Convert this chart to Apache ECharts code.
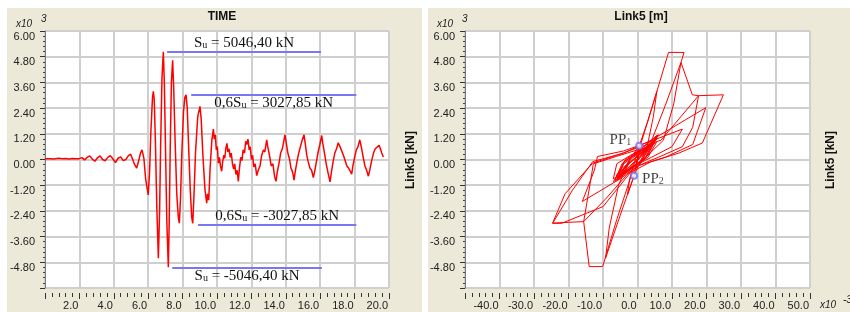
<!DOCTYPE html>
<html>
<head>
<meta charset="utf-8">
<script src="https://cdn.jsdelivr.net/npm/echarts@6/dist/echarts.min.js"></script>
<style>
html,body{margin:0;padding:0;background:#fff;}
#main{width:850px;height:312px;}
</style>
</head>
<body>
<div id="main"></div>
<script>
// Link5 force (x10^3 kN) against time (s)
var timeT = [0.0,0.3,0.5,0.8,1.0,1.2,1.4,1.6,1.8,2.0,2.15,2.3,2.45,2.6,2.75,2.9,3.05,3.2,3.35,3.5,3.65,3.8,3.95,4.1,4.25,4.4,4.55,4.7,4.85,4.98,
  5.1,5.2,5.33,5.45,5.55,5.64,5.75,5.85,6.0,6.08,6.15,6.25,6.3,6.35,6.42,6.5,6.59,6.66,6.72,6.8,6.88,6.94,7.0,7.08,7.17,7.22,7.28,7.35,7.42,7.48,
  7.56,7.66,7.75,7.81,7.88,7.95,8.05,8.13,8.2,8.27,8.35,8.45,8.53,8.59,8.66,8.75,8.88,9.01,9.08,9.18,9.3,9.4,9.45,9.52,9.6,9.7,9.79,9.84,9.9,9.96,
  10.02,10.08,10.14,10.2,10.27,10.33,10.4,10.45,10.52,10.58,10.63,10.7,10.77,10.83,10.9,10.97,11.03,11.1,11.17,11.24,11.3,11.38,11.45,11.52,11.6,11.67,11.73,11.8,11.87,11.93,
  12.0,12.07,12.14,12.22,12.31,12.4,12.5,12.6,12.7,12.78,12.89,12.95,13.05,13.15,13.25,13.35,13.43,13.5,13.6,13.7,13.8,13.88,13.95,14.02,14.12,14.22,14.3,14.4,14.48,14.55,
  14.65,14.75,14.85,14.95,15.06,15.12,15.22,15.3,15.4,15.5,15.6,15.68,15.78,15.88,15.98,16.09,16.15,16.25,16.35,16.45,16.57,16.65,16.75,16.85,16.95,17.05,17.15,17.25,17.35,17.45,
  17.55,17.65,17.75,17.83,17.9,18.0,18.1,18.2,18.3,18.4,18.5,18.6,18.7,18.8,18.88,18.98,19.1,19.2,19.3,19.42,19.5,19.58,19.67];
var timeV = [0.03,0.04,0.02,0.06,0.03,0.05,0.02,0.05,0.03,0.04,0.09,-0.02,0.1,0.17,0.02,-0.08,0.08,0.17,0.0,-0.06,0.1,0.18,0.02,-0.14,0.06,0.12,-0.05,0.0,0.18,0.25,
  0.0,-0.22,-0.4,-0.05,0.3,0.45,0.05,-0.9,-1.65,-0.6,1.2,2.9,3.18,2.8,0.8,-2.2,-4.61,-2.5,0.5,3.8,5.03,3.5,0.8,-2.8,-5.03,-3.0,0.5,3.6,4.63,3.4,
  1.0,-1.6,-2.7,-2.97,-1.8,0.2,2.2,2.9,3.02,2.4,0.6,-1.5,-2.7,-2.98,-1.7,0.3,2.0,2.48,1.9,0.2,-1.4,-2.04,-1.6,-1.9,-0.4,0.9,1.42,0.95,1.15,0.45,
  0.6,-0.17,0.1,-0.3,-0.55,-0.1,0.2,0.05,0.55,0.75,0.35,0.5,0.1,0.3,-0.2,-0.45,-0.2,-0.7,-0.5,-1.02,-0.45,0.1,-0.05,0.45,0.3,0.85,0.7,0.95,0.45,0.6,
  0.0,0.2,-0.35,-0.2,-0.75,-0.5,-0.3,0.2,0.45,0.35,0.92,0.6,0.2,-0.3,-0.2,-0.8,-1.02,-0.6,-0.2,0.3,0.5,0.85,1.15,0.8,0.3,0.0,-0.4,-0.6,-0.96,-0.55,
  -0.1,0.3,0.6,0.9,1.15,0.8,0.2,-0.1,-0.4,-0.5,-0.84,-0.55,-0.1,0.35,0.7,1.12,0.75,0.3,-0.2,-0.6,-1.04,-0.6,-0.1,0.3,0.5,0.78,0.6,0.55,0.2,-0.05,
  -0.3,-0.4,-0.55,-0.68,-0.3,0.1,0.45,0.6,0.92,0.55,0.1,-0.3,-0.5,-0.78,-0.5,-0.1,0.3,0.5,0.55,0.66,0.5,0.3,0.12];

// Link5 force (x10^3 kN) against Link5 displacement (x10^-3 m)
var loopD = [0,0.1,-0.05,0.2,-0.1,0.25,-0.2,0.3,-0.45,0.45,
  -1.0,-2.9,-2.3,-1.2,0.5,3.0,5.6,
  4.6,2.8,0.5,-1.0,-5,-9.26,
  -8.2,-5.5,-2,0.9,5,9.0,13.5,
  12.6,10.5,7.5,3,-1.5,-6,-10.1,-14.0,-15.6,
  -13.5,-12.8,-6,0,3.4,8,12.6,15.9,17.7,
  16,13,6,0,-3,-9,-15.6,-24.6,
  -21,-13,-6,1,6.8,17.7,24.9,
  18.8,12,4,-2,-10,-22,-24.6,
  -18.8,-13,-4,4,19.8,
  16,8,0,-5,-16,
  -12.5,-11.6,-4,3,13,
  10,4,-1,-7,-6,-2,3,5.5,3,-2,-6,-4,0,4,6,3,-1,-6.5,-4.5,0,6,2.5,-2,-5.8,-3.5,1,5.6,2,-3,-7,-4,0,4,1,-4,-2,2,5,1,-5,-2,3.5,
  1.2,-1.5,-4.8,-6.2,-3,-0.5,2.5,4.6,5.2,2.2,-0.8,-3.6,-5.5,-4.2,-1.2,1.8,4.2,3.5,0.6,-2.6,-6.0,-4.8,-2,0.6,3.2,5.8,2.8,-0.2,-3.2,-5.2,-3.6,-0.6,2.4,4.8,1.5];
var loopV = [0,0.05,0,0.15,-0.08,0.18,-0.15,0.25,-0.4,0.45,
  -0.76,-1.65,-0.9,-0.3,0.64,1.8,3.18,
  2.0,0.6,-0.2,-0.76,-2.6,-4.61,
  -3.2,-1.2,0.1,0.69,2.85,5.0,5.0,
  4.53,2.6,0.9,0.2,-0.6,-2.8,-5.0,-5.0,-2.9,
  -0.9,-0.2,0.15,0.45,0.6,2.5,4.53,3.02,2.98,
  1.5,0.6,0.1,-0.3,-0.7,-1.8,-2.9,-2.97,
  -1.6,-0.17,0.2,0.6,0.9,2.98,3.02,
  0.77,0.3,-0.1,-0.6,-2.2,-2.98,-2.98,
  -1.42,-0.1,0.3,0.9,2.42,
  0.7,0.1,-0.3,-0.9,-1.96,
  -0.5,0.14,0.4,0.8,1.42,
  0.6,0.1,-0.3,-0.9,-0.2,0.2,0.6,0.8,0.1,-0.4,-1.0,-0.1,0.3,0.7,1.15,0.2,-0.3,-0.96,-0.2,0.35,1.15,0.1,-0.4,-0.84,0,0.5,1.12,0,-0.6,-1.04,-0.2,0.3,0.78,-0.1,-0.68,0,0.5,0.92,-0.1,-0.78,0.1,0.66,
  0.35,-0.05,-0.55,-0.75,-0.3,0.1,0.55,0.85,0.95,0.35,-0.2,-0.6,-0.9,-0.5,0.0,0.4,0.75,0.6,0.1,-0.4,-0.85,-0.45,-0.1,0.25,0.55,1.0,0.5,0.0,-0.45,-0.7,-0.35,0.05,0.45,0.8,0.15];

// performance points
var ppNames = ['1', '2'];
var ppD = [0.5, -1.0];
var ppV = [0.64, -0.76];

// reference levels on the time history
var refPrefix = ['S', '0,6S', '0,6S', 'S'];
var refText = [' = 5046,40 kN', ' = 3027,85 kN', ' = -3027,85 kN', ' = -5046,40 kN'];
var refV = [5.0464, 3.02785, -3.02785, -5.0464];
var refFrom = [7.1, 8.5, 8.9, 7.4];
var refTo = [16.05, 18.1, 18.1, 16.1];
var refAbove = [true, false, true, false];

var myChart = echarts.init(document.getElementById('main'));

var sans = 'Liberation Sans';
var serif = 'Liberation Serif';
var gridLine = {show: true, lineStyle: {color: '#cfcfcf', width: 2}};
var richSub = {
    m: {fontFamily: serif, fontSize: 15, color: '#111'},
    s: {fontFamily: serif, fontSize: 10, color: '#111', verticalAlign: 'bottom'}
};

function yAxis(idx) {
    return {
        gridIndex: idx, type: 'value', min: -6, max: 6, interval: 1.2,
        axisLine: {show: true, onZero: false, lineStyle: {color: '#7a7a7a'}},
        axisTick: {show: true, length: 5, lineStyle: {color: '#333'}},
        minorTick: {show: true, splitNumber: 5, length: 2, lineStyle: {color: '#444'}},
        splitLine: gridLine,
        axisLabel: {
            margin: 10, verticalAlign: 'top', color: '#222', fontFamily: sans, fontSize: 11,
            formatter: function (v) { return v < -5.9 ? '' : v.toFixed(2); }
        }
    };
}
function xAxis(idx, min, max, step) {
    return {
        gridIndex: idx, type: 'value', min: min, max: max, interval: step, offset: 5,
        axisLine: {show: false, onZero: false},
        axisTick: {show: true, length: 6, lineStyle: {color: '#333'}},
        minorTick: {show: true, splitNumber: 5, length: 4, lineStyle: {color: '#333'}},
        splitLine: gridLine,
        axisLabel: {
            showMinLabel: false, align: 'right', padding: [0, 1, 0, 0], margin: 7,
            color: '#222', fontFamily: sans, fontSize: 11,
            formatter: function (v) { return v.toFixed(1); }
        }
    };
}

var option = {
    backgroundColor: '#ECE9D8',
    animation: false,
    grid: [
        {left: 45, top: 31, width: 344, height: 257, show: true, backgroundColor: '#fff', borderColor: '#999', borderWidth: 1},
        {left: 465, top: 31, width: 345, height: 257, show: true, backgroundColor: '#fff', borderColor: '#999', borderWidth: 1}
    ],
    xAxis: [xAxis(0, 0, 20, 2), xAxis(1, -50, 50, 10)],
    yAxis: [yAxis(0), yAxis(1)],
    graphic: [
        {type: 'rect', shape: {x: 0, y: 0, width: 850, height: 8}, style: {fill: '#fff'}},
        {type: 'rect', shape: {x: 0, y: 0, width: 7, height: 312}, style: {fill: '#fff'}},
        {type: 'rect', shape: {x: 422, y: 0, width: 6, height: 312}, style: {fill: '#fff'}},
        {type: 'text', x: 222, y: 17, style: {text: 'TIME', font: 'bold 12px ' + sans, fill: '#111', align: 'center', verticalAlign: 'middle'}},
        {type: 'text', x: 641, y: 17, style: {text: 'Link5 [m]', font: 'bold 12px ' + sans, fill: '#111', align: 'center', verticalAlign: 'middle'}},
        {type: 'text', x: 411, y: 160, rotation: Math.PI / 2, style: {text: 'Link5 [kN]', font: 'bold 12px ' + sans, fill: '#111', align: 'center', verticalAlign: 'middle'}},
        {type: 'text', x: 831, y: 160, rotation: Math.PI / 2, style: {text: 'Link5 [kN]', font: 'bold 12px ' + sans, fill: '#111', align: 'center', verticalAlign: 'middle'}},
        {type: 'text', x: 16, y: 24, style: {text: 'x10', font: 'italic 10px ' + sans, fill: '#222', verticalAlign: 'middle'}},
        {type: 'text', x: 41, y: 19, style: {text: '3', font: 'italic 10px ' + sans, fill: '#222', verticalAlign: 'middle'}},
        {type: 'text', x: 437, y: 24, style: {text: 'x10', font: 'italic 10px ' + sans, fill: '#222', verticalAlign: 'middle'}},
        {type: 'text', x: 462, y: 19, style: {text: '3', font: 'italic 10px ' + sans, fill: '#222', verticalAlign: 'middle'}},
        {type: 'text', x: 820, y: 305, style: {text: 'x10', font: 'italic 10px ' + sans, fill: '#222', verticalAlign: 'middle'}},
        {type: 'text', x: 843, y: 300, style: {text: '-3', font: 'italic 10px ' + sans, fill: '#222', verticalAlign: 'middle'}}
    ],
    series: [
        {
            type: 'line', xAxisIndex: 0, yAxisIndex: 0, showSymbol: false,
            lineStyle: {color: '#ff0000', width: 1.5},
            data: timeT.map(function (t, i) { return [t, timeV[i]]; }),
            markLine: {
                silent: true, symbol: ['none', 'none'],
                lineStyle: {color: '#7878f0', width: 2, type: 'solid'},
                data: refV.map(function (v, i) {
                    return [
                        {coord: [refFrom[i], v], label: {
                            show: true, position: refAbove[i] ? 'insideMiddleTop' : 'insideMiddleBottom', distance: 1,
                            formatter: '{m|' + refPrefix[i] + '}{s|u}{m|' + refText[i] + '}', rich: richSub
                        }},
                        {coord: [refTo[i], v]}
                    ];
                })
            }
        },
        {
            type: 'line', xAxisIndex: 1, yAxisIndex: 1, showSymbol: false,
            lineStyle: {color: '#ff0000', width: 1},
            data: loopD.map(function (d, i) { return [d, loopV[i]]; })
        },
        {
            type: 'scatter', xAxisIndex: 1, yAxisIndex: 1, symbol: 'emptyCircle', symbolSize: 6, z: 5,
            itemStyle: {color: '#6f6ff0', borderWidth: 1.5},
            data: ppD.map(function (d, i) {
                return {value: [d, ppV[i]], label: {
                    show: true, position: i === 0 ? 'left' : 'right', distance: 4, offset: i === 0 ? [0, -6] : [0, 3],
                    color: '#111', formatter: '{m|PP}{s|' + ppNames[i] + '}', rich: richSub
                }};
            })
        }
    ]
};
myChart.setOption(option);
</script>
</body>
</html>
